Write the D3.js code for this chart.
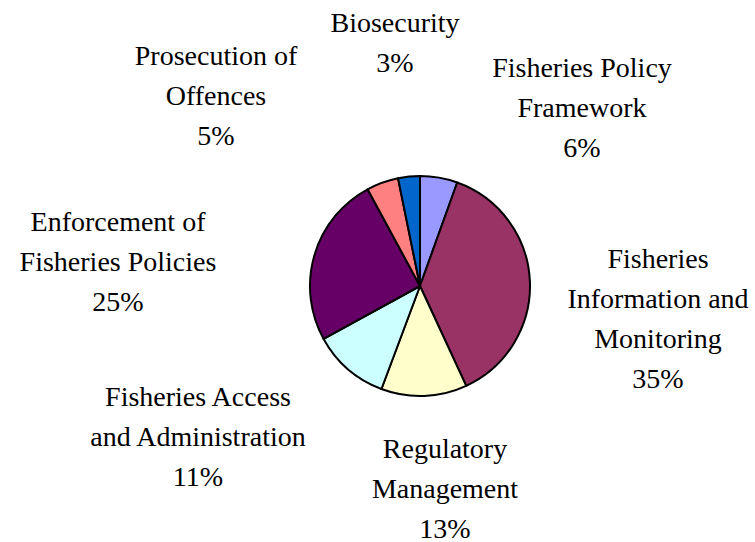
<!DOCTYPE html>
<html>
  <head>
    <meta charset="utf-8" />
    <title>Fisheries budget pie</title>
    <script src="https://d3js.org/d3.v7.min.js"></script>
    <style>
      body {
        margin: 0;
        background: #ffffff;
      }
    </style>
  </head>
  <body>
    <svg id="pie"></svg>

    <script>

      // slices, clockwise from 12 o'clock
      var categories = [
        "Fisheries Policy Framework",
        "Fisheries Information and Monitoring",
        "Regulatory Management",
        "Fisheries Access and Administration",
        "Enforcement of Fisheries Policies",
        "Prosecution of Offences",
        "Biosecurity"
      ];
      // share of each slice
      var values = [5.5, 37.6, 12.6, 11.3, 25.1, 4.7, 3.2];
      // label text as printed on the chart
      var labelLines = [
        ["Fisheries Policy", "Framework"],
        ["Fisheries", "Information and", "Monitoring"],
        ["Regulatory", "Management"],
        ["Fisheries Access", "and Administration"],
        ["Enforcement of", "Fisheries Policies"],
        ["Prosecution of", "Offences"],
        ["Biosecurity"]
      ];
      var percentLabels = ["6%", "35%", "13%", "11%", "25%", "5%", "3%"];

      var colors = ["#9999FF", "#993366", "#FFFFCC", "#CCFFFF", "#660066", "#FF8080", "#0066CC"];

      var width = 755;
      var height = 542;
      var cx = 420;
      var cy = 286;
      var radius = 110;
      var lineHeight = 40;

      // pick the first serif face the machine really has
      function pickFont() {
        var candidates = ["Liberation Serif", "Times New Roman", "Tinos", "DejaVu Serif",
                          "Noto Serif", "FreeSerif", "Nimbus Roman", "Times"];
        var ctx = document.createElement("canvas").getContext("2d");
        var probe = "Fisheries Policy Wm 0123";
        ctx.font = "40px monospace";
        var base = ctx.measureText(probe).width;
        for (var i = 0; i < candidates.length; i++) {
          ctx.font = "40px '" + candidates[i] + "', monospace";
          if (Math.abs(ctx.measureText(probe).width - base) > 0.5) {
            return "'" + candidates[i] + "', serif";
          }
        }
        return "serif";
      }
      var font = pickFont();

      // where each label block sits (centre x, first baseline)
      var labelPos = [
        [582, 77],
        [658, 268],
        [445, 458],
        [198, 406],
        [118, 231],
        [216, 65],
        [395, 32]
      ];

      var svg = d3.select("#pie")
        .attr("width", width)
        .attr("height", height);

      var pie = d3.pie()
        .sort(null)
        .value(function(d) { return d; });

      var arc = d3.arc()
        .innerRadius(0)
        .outerRadius(radius);

      var g = svg.append("g")
        .attr("transform", "translate(" + cx + "," + cy + ")");

      g.selectAll(".slice")
        .data(pie(values))
        .enter().append("path")
        .attr("class", "slice")
        .attr("d", arc)
        .attr("fill", function(d, i) { return colors[i]; })
        .attr("stroke", "#000")
        .attr("stroke-width", 2)
        .attr("stroke-linejoin", "round");

      var labels = svg.selectAll(".label")
        .data(categories)
        .enter().append("text")
        .attr("class", "label")
        .attr("font-family", font)
        .attr("font-size", "28px")
        .attr("fill", "#000")
        .attr("text-anchor", "middle")
        .attr("x", function(d, i) { return labelPos[i][0]; })
        .attr("y", function(d, i) { return labelPos[i][1]; });

      labels.each(function(d, i) {
        var t = d3.select(this);
        var lines = labelLines[i].concat([percentLabels[i]]);
        lines.forEach(function(line, j) {
          t.append("tspan")
            .attr("x", labelPos[i][0])
            .attr("dy", j === 0 ? 0 : lineHeight)
            .text(line);
        });
      });

    </script>
  </body>
</html>
